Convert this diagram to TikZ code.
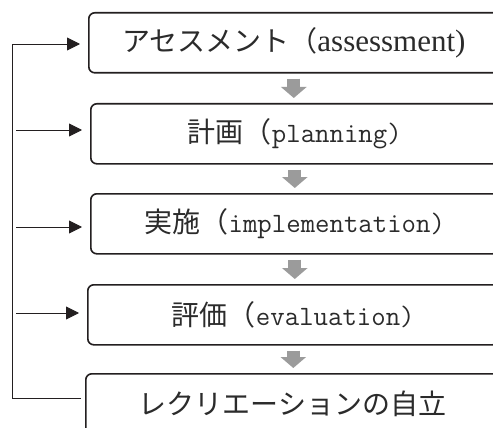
\documentclass[tikz,border=0pt]{standalone}
\usepackage{fontspec}
\newfontfamily\jp{Noto Sans CJK JP}
\newfontfamily\lserif{Liberation Serif}
\usetikzlibrary{arrows.meta,calc}
\definecolor{ink}{HTML}{231F20}
\definecolor{txt}{HTML}{2B2B2B}
\definecolor{blockgray}{HTML}{9B9B9B}
\begin{document}
\begin{tikzpicture}[x=1pt,y=-1pt,
  stagebox/.style={draw=ink, line width=1.6pt, rounded corners=6pt, minimum height=60pt,
    anchor=north west, inner sep=0pt, font=\fontsize{28}{30}\selectfont, text=txt},
  blockarrow/.style={draw=blockgray, line width=13pt, -{Triangle[length=11pt,width=25pt]},
    shorten <=5pt, shorten >=5pt},
  fb/.style={draw=ink, line width=0.9pt},
  fbarrow/.style={fb, -{Triangle[length=13pt,width=13pt]}, shorten >=8pt}]
\fill[white] (0,0) rectangle (493,428);
\useasboundingbox (0,0) rectangle (493,428);

\node[stagebox, minimum width=410pt] (b1) at (88,12)
  {{\jp アセスメント（}{\lserif\fontsize{31}{33}\selectfont assessment)}};
\node[stagebox, minimum width=408pt] (b2) at (90,103) {{\jp 計画（}\texttt{planning)}};
\node[stagebox, minimum width=408pt] (b3) at (90,193) {{\jp 実施（}\texttt{implementation)}};
\node[stagebox, minimum width=411pt] (b4) at (87,284) {{\jp 評価（}\texttt{evaluation)}};
\node[stagebox, minimum width=413pt] (b5) at (85,373) {\jp レクリエーションの自立};

\draw[blockarrow] (b1.south) -- (b1.south |- b2.north);
\draw[blockarrow] (b2.south) -- (b2.south |- b3.north);
\draw[blockarrow] (b3.south) -- (b3.south |- b4.north);
\draw[blockarrow] (b4.south) -- (b4.south |- b5.north);

\coordinate (fbBot) at (12,398);
\coordinate (fbTop) at (12,44);
\coordinate (b5in) at ([xshift=-4pt]b5.west);
\draw[fbarrow] (b5in |- fbBot) -- (fbBot) -- (fbTop) -- (fbTop -| b1.west);

\coordinate (s2) at (16,130);
\coordinate (s3) at (16,227);
\coordinate (s4) at (16,313);
\draw[fbarrow] (s2) -- (s2 -| b2.west);
\draw[fbarrow] (s3) -- (s3 -| b3.west);
\draw[fbarrow] (s4) -- (s4 -| b4.west);
\end{tikzpicture}
\end{document}
